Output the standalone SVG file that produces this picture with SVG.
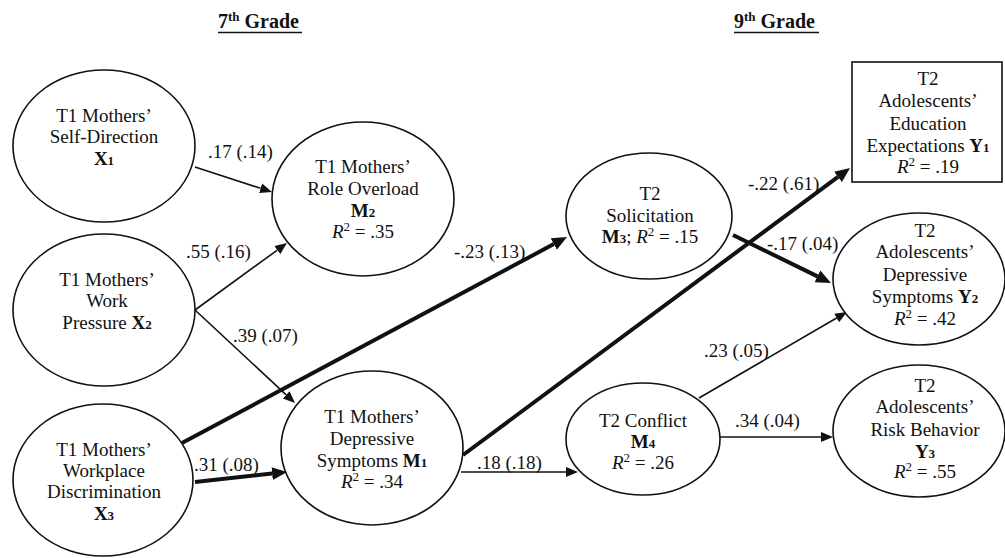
<svg xmlns="http://www.w3.org/2000/svg" width="1005" height="558" viewBox="0 0 1005 558">
<defs>
<style>
text{font-family:"Liberation Serif","Times New Roman",serif;font-size:19px;fill:#111;}
.c{text-anchor:middle;}
.b{font-weight:bold;}
.i{font-style:italic;}
.s{font-size:13px;}
.t{font-size:20px;font-weight:bold;}
.node{fill:#fff;stroke:#111;stroke-width:1.6;}
.thin{stroke:#111;stroke-width:1.6;fill:none;marker-end:url(#ah);}
.thick{stroke:#111;stroke-width:4;fill:none;marker-end:url(#ahb);}
</style>
<marker id="ah" markerUnits="userSpaceOnUse" markerWidth="14" markerHeight="12" refX="0" refY="5" orient="auto" viewBox="0 0 14 10"><path d="M0,0 L12,5 L0,10 z" fill="#111"/></marker>
<marker id="ahb" markerUnits="userSpaceOnUse" markerWidth="16" markerHeight="14" refX="0" refY="6.5" orient="auto" viewBox="0 0 16 13"><path d="M0,0 L15,6.5 L0,13 z" fill="#111"/></marker>
</defs>
<rect width="1005" height="558" fill="#fff"/>

<g id="titles">
<text x="218" y="28" class="t">7<tspan font-size="13" dy="-7">th</tspan><tspan dy="7"> Grade</tspan></text>
<line x1="218" y1="32.5" x2="302" y2="32.5" stroke="#111" stroke-width="1.5"/>
<text x="734" y="28" class="t">9<tspan font-size="13" dy="-7">th</tspan><tspan dy="7"> Grade</tspan></text>
<line x1="734" y1="32.5" x2="819" y2="32.5" stroke="#111" stroke-width="1.5"/>
</g>

<g id="connectors">
<path class="thin" d="M195,167 L260.6,188.3"/>
<path class="thin" d="M195,310 L277.3,250.1"/>
<path class="thin" d="M195,310 L286.2,394.8"/>
<path class="thick" d="M195,482 L272.1,473.6"/>
<path class="thick" d="M182,443 L553.8,244.1"/>
<path class="thick" d="M463,455 L838,176.9"/>
<path class="thin" d="M461,472 L566,472"/>
<path class="thick" d="M733,235 L817.5,276.4"/>
<path class="thin" d="M699,398 L836.6,318"/>
<path class="thin" d="M720,437 L821,437"/>
<text x="208" y="158">.17 (.14)</text>
<text x="186" y="258">.55 (.16)</text>
<text x="233" y="342">.39 (.07)</text>
<text x="194" y="471">.31 (.08)</text>
<text x="454" y="258">-.23 (.13)</text>
<text x="477" y="469">.18 (.18)</text>
<text x="748" y="190">-.22 (.61)</text>
<text x="767" y="250">-.17 (.04)</text>
<text x="704" y="357">.23 (.05)</text>
<text x="735" y="427">.34 (.04)</text>
</g>

<g id="X1">
<ellipse class="node" cx="104" cy="146" rx="91" ry="76"/>
<text class="c" x="104" y="122">T1 Mothers’</text>
<text class="c" x="104" y="143">Self-Direction</text>
<text class="c" x="104" y="165"><tspan class="b">X</tspan><tspan class="b s">1</tspan></text>
</g>

<g id="X2">
<ellipse class="node" cx="104" cy="310" rx="91" ry="76"/>
<text class="c" x="107" y="286">T1 Mothers’</text>
<text class="c" x="107" y="307">Work</text>
<text class="c" x="107" y="329">Pressure <tspan class="b">X</tspan><tspan class="b s">2</tspan></text>
</g>

<g id="X3">
<ellipse class="node" cx="103" cy="480" rx="90" ry="76"/>
<text class="c" x="104" y="456">T1 Mothers’</text>
<text class="c" x="104" y="477">Workplace</text>
<text class="c" x="104" y="498">Discrimination</text>
<text class="c" x="104" y="520"><tspan class="b">X</tspan><tspan class="b s">3</tspan></text>
</g>

<g id="M2">
<ellipse class="node" cx="363" cy="199" rx="91" ry="77"/>
<text class="c" x="363" y="173">T1 Mothers’</text>
<text class="c" x="363" y="195">Role Overload</text>
<text class="c" x="363" y="217"><tspan class="b">M</tspan><tspan class="b s">2</tspan></text>
<text class="c" x="363" y="238"><tspan class="i">R</tspan><tspan class="s" dy="-7">2</tspan><tspan dy="7"> = .35</tspan></text>
</g>

<g id="M1">
<ellipse class="node" cx="372" cy="448" rx="91" ry="77"/>
<text class="c" x="372" y="423">T1 Mothers’</text>
<text class="c" x="372" y="445">Depressive</text>
<text class="c" x="372" y="467">Symptoms <tspan class="b">M</tspan><tspan class="b s">1</tspan></text>
<text class="c" x="372" y="488"><tspan class="i">R</tspan><tspan class="s" dy="-7">2</tspan><tspan dy="7"> = .34</tspan></text>
</g>

<g id="M3">
<ellipse class="node" cx="649" cy="216" rx="83" ry="63"/>
<text class="c" x="650" y="200">T2</text>
<text class="c" x="650" y="222">Solicitation</text>
<text class="c" x="650" y="243"><tspan class="b">M</tspan><tspan class="b s">3</tspan>; <tspan class="i">R</tspan><tspan class="s" dy="-7">2</tspan><tspan dy="7"> = .15</tspan></text>
</g>

<g id="M4">
<ellipse class="node" cx="643" cy="439" rx="77" ry="56"/>
<text class="c" x="643" y="427">T2 Conflict</text>
<text class="c" x="643" y="448"><tspan class="b">M</tspan><tspan class="b s">4</tspan></text>
<text class="c" x="643" y="469"><tspan class="i">R</tspan><tspan class="s" dy="-7">2</tspan><tspan dy="7"> = .26</tspan></text>
</g>

<g id="Y1">
<rect class="node" x="852" y="62" width="150" height="120"/>
<text class="c" x="928" y="85">T2</text>
<text class="c" x="928" y="107">Adolescents’</text>
<text class="c" x="928" y="130">Education</text>
<text class="c" x="928" y="152">Expectations <tspan class="b">Y</tspan><tspan class="b s">1</tspan></text>
<text class="c" x="928" y="173"><tspan class="i">R</tspan><tspan class="s" dy="-7">2</tspan><tspan dy="7"> = .19</tspan></text>
</g>

<g id="Y2">
<ellipse class="node" cx="919" cy="279" rx="86" ry="66"/>
<text class="c" x="925" y="237">T2</text>
<text class="c" x="925" y="258">Adolescents’</text>
<text class="c" x="925" y="281">Depressive</text>
<text class="c" x="925" y="303">Symptoms <tspan class="b">Y</tspan><tspan class="b s">2</tspan></text>
<text class="c" x="925" y="325"><tspan class="i">R</tspan><tspan class="s" dy="-7">2</tspan><tspan dy="7"> = .42</tspan></text>
</g>

<g id="Y3">
<ellipse class="node" cx="919" cy="431" rx="86" ry="66"/>
<text class="c" x="925" y="392">T2</text>
<text class="c" x="925" y="413">Adolescents’</text>
<text class="c" x="925" y="436">Risk Behavior</text>
<text class="c" x="925" y="458"><tspan class="b">Y</tspan><tspan class="b s">3</tspan></text>
<text class="c" x="925" y="478"><tspan class="i">R</tspan><tspan class="s" dy="-7">2</tspan><tspan dy="7"> = .55</tspan></text>
</g>
</svg>
